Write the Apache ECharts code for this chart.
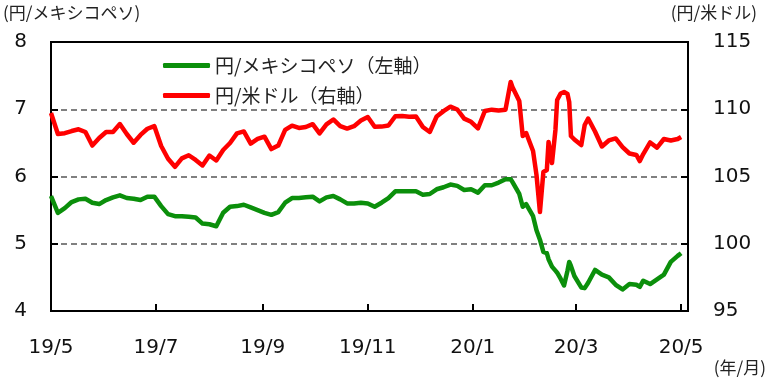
<!DOCTYPE html>
<html>
<head>
<meta charset="utf-8">
<script src="https://cdn.jsdelivr.net/npm/echarts@6/dist/echarts.min.js"></script>
<style>html,body{margin:0;padding:0;background:#fff;}#c{width:768px;height:382px;}</style>
</head>
<body>
<div id="c"></div>
<script>
const dates = ['2019-05-01','2019-05-05','2019-05-09','2019-05-13','2019-05-17','2019-05-21','2019-05-25','2019-05-29',
'2019-06-02','2019-06-06','2019-06-10','2019-06-14','2019-06-18','2019-06-22','2019-06-26','2019-06-30',
'2019-07-04','2019-07-08','2019-07-12','2019-07-16','2019-07-20','2019-07-24','2019-07-28',
'2019-08-01','2019-08-05','2019-08-09','2019-08-13','2019-08-17','2019-08-21','2019-08-25','2019-08-29',
'2019-09-02','2019-09-06','2019-09-10','2019-09-14','2019-09-18','2019-09-22','2019-09-26','2019-09-30',
'2019-10-04','2019-10-08','2019-10-12','2019-10-16','2019-10-20','2019-10-24','2019-10-28',
'2019-11-01','2019-11-05','2019-11-09','2019-11-13','2019-11-17','2019-11-21','2019-11-25','2019-11-29',
'2019-12-03','2019-12-07','2019-12-11','2019-12-15','2019-12-19','2019-12-23','2019-12-27','2019-12-31',
'2020-01-04','2020-01-08','2020-01-12','2020-01-16','2020-01-20','2020-01-23','2020-01-24','2020-01-28','2020-01-30',
'2020-02-01','2020-02-05','2020-02-07','2020-02-09','2020-02-11','2020-02-13','2020-02-14','2020-02-16','2020-02-18','2020-02-19',
'2020-02-21','2020-02-23','2020-02-25','2020-02-26','2020-02-27','2020-02-29',
'2020-03-04','2020-03-06','2020-03-08','2020-03-12','2020-03-16','2020-03-20','2020-03-24','2020-03-28',
'2020-04-01','2020-04-05','2020-04-07','2020-04-09','2020-04-13','2020-04-17','2020-04-21','2020-04-25','2020-04-29','2020-05-01'];

const mxnJpy = [5.71,5.46,5.53,5.62,5.66,5.67,5.61,5.59,
5.65,5.69,5.72,5.68,5.67,5.65,5.70,5.70,
5.56,5.44,5.41,5.41,5.40,5.39,5.30,
5.29,5.26,5.46,5.55,5.56,5.58,5.54,5.50,
5.46,5.43,5.47,5.61,5.68,5.68,5.69,5.70,
5.63,5.69,5.71,5.66,5.60,5.60,5.61,
5.60,5.55,5.61,5.68,5.78,5.78,5.78,5.78,
5.73,5.74,5.81,5.84,5.88,5.86,5.80,5.81,
5.76,5.87,5.87,5.91,5.96,5.96,5.92,5.74,5.55,
5.59,5.41,5.20,5.06,4.88,4.86,4.77,4.66,4.60,4.57,
4.48,4.38,4.60,4.73,4.67,4.52,
4.35,4.34,4.42,4.61,4.54,4.50,4.39,4.32,
4.40,4.39,4.36,4.45,4.40,4.47,4.54,4.73,4.82,4.86];

const usdJpy = [109.72,108.16,108.22,108.38,108.51,108.31,107.30,107.86,
108.31,108.31,108.90,108.16,107.51,108.09,108.55,108.75,
107.27,106.32,105.72,106.35,106.58,106.23,105.82,
106.56,106.19,106.97,107.49,108.21,108.35,107.45,107.79,
107.96,107.04,107.30,108.46,108.78,108.61,108.68,108.89,
108.20,108.87,109.24,108.75,108.56,108.74,109.16,
109.42,108.70,108.71,108.79,109.48,109.50,109.45,109.46,
108.68,108.31,109.46,109.86,110.19,109.98,109.30,109.07,
108.58,109.87,109.97,109.91,109.97,112.03,111.65,110.61,108.01,
108.23,106.90,105.11,102.36,105.33,105.48,107.57,106.00,108.46,110.69,
111.17,111.28,111.13,110.54,108.01,107.75,
107.34,108.83,109.31,108.35,107.23,107.68,107.83,107.19,
106.71,106.60,106.15,106.67,107.53,107.15,107.79,107.68,107.79,107.94];

const xTickDates = ['2019-05-01','2019-07-01','2019-09-01','2019-11-01','2020-01-01','2020-03-01','2020-05-01'];
const leftTicks = [4,5,6,7,8];
const rightTicks = [95,100,105,110,115];
const seriesNames = ['円/メキシコペソ（左軸）','円/米ドル（右軸）'];

function ts(s){const p=s.split('-').map(Number);return Date.UTC(p[0],p[1]-1,p[2]);}
const xTicks = xTickDates.map(ts);

const numFont = 'DejaVu Sans';
const jpFont = '"Noto Sans CJK JP"';

const chart = echarts.init(document.getElementById('c'), null, {renderer:'canvas'});
chart.setOption({
  animation:false,
  backgroundColor:'#fff',
  grid:{left:51,right:80,top:42,bottom:71,show:true,borderColor:'#000',borderWidth:2,backgroundColor:'transparent'},
  legend:{
    orient:'vertical',left:158,top:51,itemWidth:47,itemHeight:5,itemGap:11,icon:'roundRect',
    textStyle:{fontFamily:jpFont,fontSize:19,color:'#222'},
    data:seriesNames
  },
  xAxis:{
    type:'value',min:ts('2019-05-01'),max:ts('2020-05-05'),
    axisLine:{lineStyle:{color:'#000',width:2}},
    axisTick:{show:true,inside:true,length:7,lineStyle:{color:'#000',width:2},customValues:xTicks},
    axisLabel:{customValues:xTicks,margin:27,fontFamily:numFont,fontSize:20,color:'#111',
      formatter:function(v){const d=new Date(v);return (d.getUTCFullYear()%100)+'/'+(d.getUTCMonth()+1);}},
    splitLine:{show:false}
  },
  yAxis:[{
    type:'value',min:leftTicks[0],max:leftTicks[leftTicks.length-1],interval:1,
    axisLine:{show:true,lineStyle:{color:'#000',width:2}},
    axisTick:{show:true,inside:true,length:7,lineStyle:{color:'#000',width:2}},
    axisLabel:{margin:24,fontFamily:numFont,fontSize:20,color:'#111'},
    splitLine:{show:true,showMinLine:false,showMaxLine:false,lineStyle:{color:'#808080',width:2,type:[6,4]}}
  },{
    type:'value',min:rightTicks[0],max:rightTicks[rightTicks.length-1],interval:5,position:'right',
    axisLine:{show:true,lineStyle:{color:'#000',width:2}},
    axisTick:{show:true,inside:true,length:7,lineStyle:{color:'#000',width:2}},
    axisLabel:{margin:25,fontFamily:numFont,fontSize:20,color:'#111'},
    splitLine:{show:false}
  }],
  graphic:[
    {type:'text',left:3,top:4,style:{text:'(円/メキシコペソ)',font:'17px '+jpFont,fill:'#222'}},
    {type:'text',right:11,top:4,style:{text:'(円/米ドル)',font:'17px '+jpFont,fill:'#222'}},
    {type:'text',right:2,top:359,style:{text:'(年/月)',font:'17px '+jpFont,fill:'#222'}}
  ],
  series:[{
    name:seriesNames[0],type:'line',yAxisIndex:0,showSymbol:false,
    lineStyle:{color:'#0b8f0b',width:4.5,join:'round'},itemStyle:{color:'#0b8f0b'},
    data:dates.map((d,i)=>[ts(d),mxnJpy[i]])
  },{
    name:seriesNames[1],type:'line',yAxisIndex:1,showSymbol:false,
    lineStyle:{color:'#ff0000',width:4.5,join:'round'},itemStyle:{color:'#ff0000'},
    data:dates.map((d,i)=>[ts(d),usdJpy[i]])
  }]
});
</script>
</body>
</html>
